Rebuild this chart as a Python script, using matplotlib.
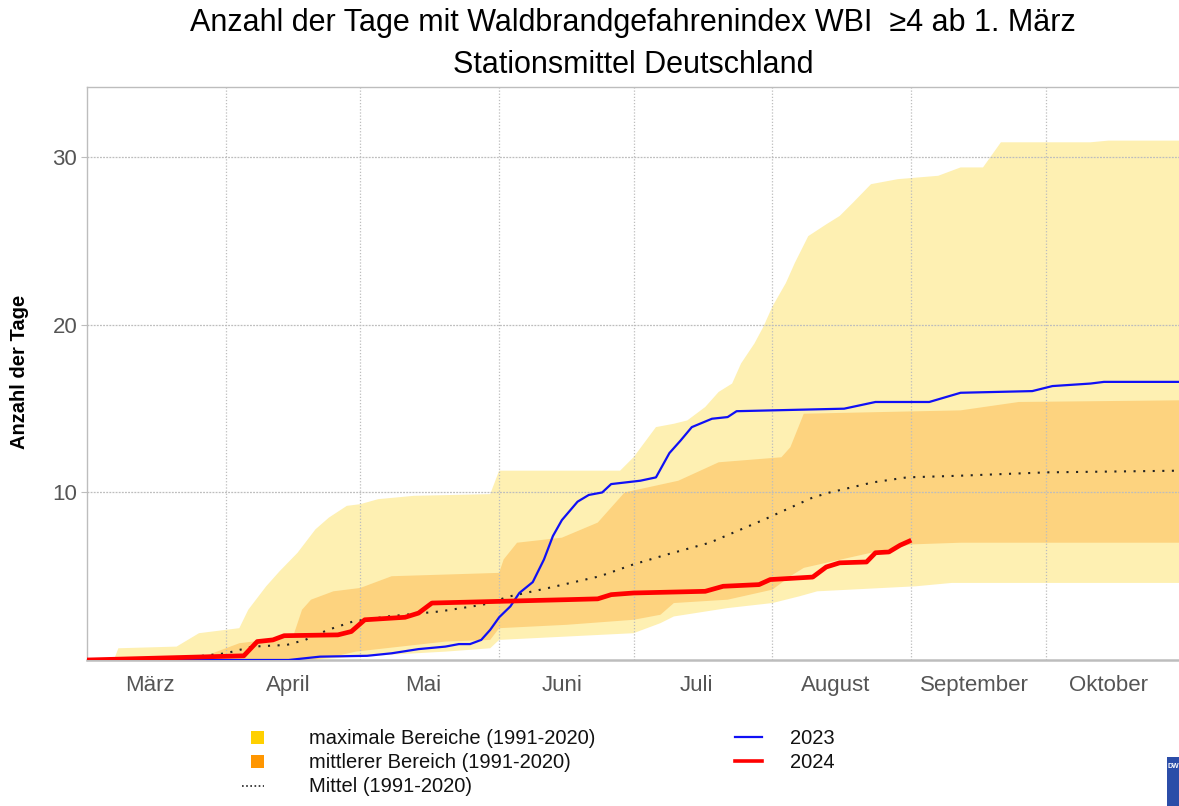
import numpy as np
import matplotlib
matplotlib.use('Agg')
import matplotlib.pyplot as plt
from matplotlib.patches import Rectangle
from matplotlib.lines import Line2D

plt.rcParams['font.family'] = ['Liberation Sans', 'DejaVu Sans']

# days counted from 1 March
month_names = ['März', 'April', 'Mai', 'Juni', 'Juli', 'August', 'September', 'Oktober']
month_starts = [0, 31, 61, 92, 122, 153, 184, 214]

# maximal range (1991-2020), upper and lower edge
max_up_days = [0, 6, 7, 20, 25, 34, 36, 40, 43, 47, 51, 54, 58, 61, 65, 73, 90, 92, 119,
               122, 127, 131, 134, 138, 141, 144, 146, 149, 151, 153, 156, 158, 161, 165,
               168, 171, 175, 181, 190, 195, 200, 204, 224, 228, 244]
max_up_vals = [0, 0, 0.7, 0.8, 1.6, 1.9, 3.0, 4.4, 5.3, 6.4, 7.8, 8.5, 9.2, 9.3, 9.6, 9.8,
               9.9, 11.3, 11.3, 12.1, 13.9, 14.1, 14.3, 15.1, 16.0, 16.5, 17.7, 18.9, 19.9,
               21.1, 22.5, 23.7, 25.3, 26.0, 26.5, 27.3, 28.4, 28.7, 28.9, 29.4, 29.4, 30.9,
               30.9, 31.0, 31.0]
max_lo_days = [0, 50, 60, 80, 90, 92, 107, 122, 128, 131, 143, 153, 159, 163, 185, 193, 244]
max_lo_vals = [0, 0, 0.2, 0.5, 0.7, 1.2, 1.4, 1.6, 2.2, 2.6, 3.1, 3.4, 3.8, 4.1, 4.4, 4.6, 4.6]

# middle range (1991-2020)
mid_up_days = [24, 30, 34, 40, 46, 48, 50, 55, 61, 68, 92, 93, 96, 106, 114, 120, 132, 141,
               155, 157, 160, 195, 208, 244]
mid_up_vals = [0, 0.6, 1.0, 1.2, 1.4, 3.0, 3.6, 4.1, 4.3, 5.0, 5.2, 6.0, 7.0, 7.3, 8.2, 10.0,
               10.7, 11.8, 12.1, 12.7, 14.7, 14.9, 15.4, 15.5]
mid_lo_days = [24, 50, 55, 60, 70, 80, 90, 92, 107, 122, 128, 131, 143, 153, 157, 160, 175,
               184, 195, 244]
mid_lo_vals = [0, 0, 0.2, 0.5, 0.8, 1.1, 1.2, 1.9, 2.1, 2.4, 2.7, 3.4, 3.6, 4.2, 5.0, 5.5, 6.4,
               6.9, 7.0, 7.0]

# mean (1991-2020)
mean_days = [0, 15, 24, 31, 37, 44.6, 48.7, 53.8, 59.4, 67.2, 78.8, 88.4, 94.4, 103, 114.5,
             121.9, 129.5, 139, 151.3, 162, 165.8, 175.4, 183, 194.9, 214.3, 244]
mean_vals = [0, 0.05, 0.2, 0.4, 0.8, 0.9, 1.2, 1.8, 2.3, 2.6, 2.9, 3.3, 3.8, 4.3, 5.0, 5.7,
             6.3, 7.0, 8.4, 9.7, 10.0, 10.6, 10.9, 11.0, 11.2, 11.3]

# 2023
y2023_days = [0, 45, 52, 62.5, 68, 74, 80, 83, 85.5, 88, 90, 92, 94.5, 96.5, 99.5, 102, 104,
              106, 109.5, 112, 115, 117, 123.5, 127, 130, 132.5, 135, 139.5, 143, 145, 169,
              176, 188, 195, 211, 215.5, 224, 227, 244]
y2023_vals = [0, 0, 0.2, 0.25, 0.4, 0.65, 0.8, 0.95, 0.95, 1.2, 1.8, 2.55, 3.2, 4.0, 4.65,
              6.0, 7.4, 8.35, 9.45, 9.85, 10.0, 10.5, 10.7, 10.9, 12.35, 13.1, 13.9, 14.4,
              14.5, 14.85, 15.0, 15.4, 15.4, 15.95, 16.05, 16.35, 16.5, 16.6, 16.6]

# 2024
y2024_days = [0, 28, 35, 38, 41.5, 44, 56, 59, 62, 71, 74, 77, 92, 107, 114, 117, 122, 138,
              142, 150, 152.5, 162, 165, 168, 174, 176, 179, 181.5, 184]
y2024_vals = [0, 0.2, 0.25, 1.1, 1.2, 1.45, 1.5, 1.7, 2.4, 2.55, 2.8, 3.4, 3.5, 3.6, 3.65,
              3.9, 4.0, 4.1, 4.4, 4.5, 4.8, 4.95, 5.55, 5.8, 5.85, 6.4, 6.45, 6.85, 7.15]

c_max = '#FEF0B2'
c_mid = '#FDD37F'
c_grid = '#BDBDBD'
c_tick = '#555555'

fig = plt.figure(figsize=(11.79, 8.06), dpi=100)
ax = fig.add_axes([87 / 1179, 1 - 660 / 806, 1 - 87 / 1179, (660 - 87) / 806])


def band(ax, d_up, v_up, d_lo, v_lo, color):
    xs = np.concatenate([d_up, d_lo[::-1]])
    ys = np.concatenate([v_up, v_lo[::-1]])
    ax.fill(xs, ys, color=color, lw=0, zorder=1)


band(ax, np.array(max_up_days), np.array(max_up_vals),
     np.array(max_lo_days), np.array(max_lo_vals), c_max)
band(ax, np.array(mid_up_days), np.array(mid_up_vals),
     np.array(mid_lo_days), np.array(mid_lo_vals), c_mid)

ax.plot(mean_days, mean_vals, color='#222222', lw=1.5, linestyle=(0, (1, 3.6)), zorder=3)
ax.plot(y2023_days, y2023_vals, color='#1010F5', lw=1.6, zorder=4)
ax.plot(y2024_days, y2024_vals, color='#FF0000', lw=3.4, zorder=5,
        solid_capstyle='butt')

ax.set_xlim(0, 243.75)
ax.set_ylim(0, 34.2)

# grid: month boundaries and y ticks
for d in month_starts[1:]:
    ax.axvline(d, color=c_grid, lw=0.9, linestyle=(0, (1, 1.5)), zorder=2)
for v in [10, 20, 30]:
    ax.axhline(v, color=c_grid, lw=0.9, linestyle=(0, (1.5, 1)), zorder=2)

ax.set_yticks([10, 20, 30])
ax.set_xticks([s + 14 for s in month_starts])
ax.set_xticklabels(month_names)
ax.tick_params(axis='x', length=0, pad=11, labelsize=16, labelcolor=c_tick)
ax.tick_params(axis='y', length=4, width=0.8, color=c_grid, pad=3, labelsize=16,
               labelcolor=c_tick)
for sp in ax.spines.values():
    sp.set_color(c_grid)
    sp.set_linewidth(1.0)
ax.spines['bottom'].set_linewidth(1.8)
ax.spines['right'].set_visible(False)

fig.text(20 / 1179, 1 - 372 / 806, 'Anzahl der Tage', rotation=90, ha='center',
         va='center', fontsize=14.5, fontweight='bold')

fig.text(633 / 1179, 1 - 23 / 806, 'Anzahl der Tage mit Waldbrandgefahrenindex WBI  \u22654 ab 1. März',
         ha='center', va='center', fontsize=22)
fig.text(633 / 1179, 1 - 65 / 806, 'Stationsmittel Deutschland', ha='center', va='center',
         fontsize=22)

# legend
leg_fs = 14.5
fig.patches.append(Rectangle((251 / 1179, 1 - 744 / 806), 13 / 1179, 13 / 806,
                             transform=fig.transFigure, color='#FFD000', lw=0))
fig.patches.append(Rectangle((251 / 1179, 1 - 768 / 806), 13 / 1179, 13 / 806,
                             transform=fig.transFigure, color='#FF9600', lw=0))
fig.lines.append(Line2D([242 / 1179, 264 / 1179], [1 - 786 / 806] * 2, transform=fig.transFigure,
                        color='#222222', lw=1.2, linestyle=(0, (1, 1.5))))
fig.lines.append(Line2D([735 / 1179, 762 / 1179], [1 - 737 / 806] * 2, transform=fig.transFigure,
                        color='#1010F5', lw=1.6))
fig.lines.append(Line2D([735 / 1179, 762 / 1179], [1 - 761 / 806] * 2, transform=fig.transFigure,
                        color='#FF0000', lw=2.6))
legend_texts = [('maximale Bereiche (1991-2020)', 309, 738),
                ('mittlerer Bereich (1991-2020)', 309, 762),
                ('Mittel (1991-2020)', 309, 786),
                ('2023', 790, 738),
                ('2024', 790, 762)]
for txt, x, y in legend_texts:
    fig.text(x / 1179, 1 - y / 806, txt, ha='left', va='center', fontsize=leg_fs,
             color='#111111')

# logo corner
fig.patches.append(Rectangle((1167 / 1179, 0), 20 / 1179, 49 / 806,
                             transform=fig.transFigure, color='#2B4DA8', lw=0))
fig.text(1168 / 1179, 1 - 766 / 806, 'DW', color='white', fontsize=5, fontweight='bold',
         ha='left', va='center')

fig.savefig('out.png', dpi=100)
